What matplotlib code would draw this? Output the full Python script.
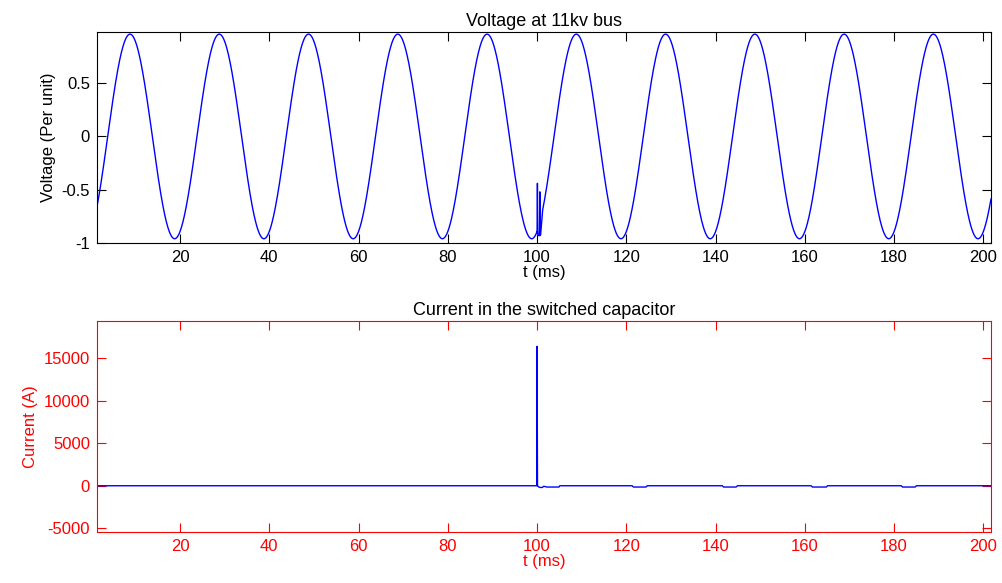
import numpy as np
import matplotlib
matplotlib.use("Agg")
import matplotlib.pyplot as plt

plt.rcParams['font.family'] = ['Liberation Sans', 'DejaVu Sans']
plt.rcParams['font.size'] = 12
plt.rcParams['axes.unicode_minus'] = False

# time window of the simulation (ms)
t_start, t_end = 1.4, 201.7

# bus voltage: 50 Hz steady state, per unit
v_amp = 0.96
v_freq_hz = 50.0
v_first_peak_ms = 8.8

# switching transient on the voltage around t = 100 ms
tr_t = [100.00, 100.08, 100.16, 100.24, 100.55, 100.62, 100.70, 100.80]
tr_v = [-0.91, -0.44, -0.88, -0.93, -0.93, -0.52, -0.93, -0.92]
tr_resume = 101.2

# capacitor current (A)
cur_t = [1.4, 99.95, 100.0, 100.1, 100.3, 100.7, 101.2, 101.5, 102.2, 104.9, 105.1,
         121.3, 121.6, 124.4, 124.7,
         141.5, 141.8, 144.6, 144.9,
         161.4, 161.7, 164.8, 165.1,
         181.6, 181.9, 184.7, 185.0,
         201.7]
cur_v = [0, 0, 16400, 0, -120, -200, -200, -60, -150, -150, 0,
         0, -150, -150, 0,
         0, -150, -150, 0,
         0, -150, -150, 0,
         0, -150, -150, 0,
         0]

v_ticks = [-1, -0.5, 0, 0.5]
i_ticks = [-5000, 0, 5000, 10000, 15000]
t_ticks = list(range(20, 201, 20))


def bus_voltage(t):
    return v_amp * np.cos(2 * np.pi * v_freq_hz * (t - v_first_peak_ms) / 1000.0)


t = np.linspace(t_start, t_end, 6000)
t_pre = t[t < tr_t[0]]
t_post = t[t >= tr_resume]
volt_t = np.concatenate([t_pre, tr_t, t_post])
volt_v = np.concatenate([bus_voltage(t_pre), tr_v, bus_voltage(t_post)])

fig = plt.figure(figsize=(10.03, 5.83), dpi=100)
ax1 = fig.add_axes([0.0967, 0.5832, 0.8913, 0.3619])
ax2 = fig.add_axes([0.0967, 0.0875, 0.8913, 0.3624])

blue = (0, 0, 1)
red = (1, 0, 0)

# --- voltage ---
ax1.plot(volt_t, volt_v, color=blue, lw=1.0)
ax1.set_xlim(t_start, t_end)
ax1.set_ylim(-1.0, 0.98)
ax1.set_xticks(t_ticks)
ax1.set_yticks(v_ticks)
ax1.set_yticklabels(['-1', '-0.5', '0', '0.5'])
ax1.tick_params(direction='in', length=6.5, width=0.8, top=True, right=True, pad=5)
ax1.set_title('Voltage at 11kv bus', pad=4, fontsize=13)
ax1.set_xlabel('t (ms)', labelpad=0)
ax1.set_ylabel('Voltage (Per unit)')

# --- current ---
ax2.plot(cur_t, cur_v, color=blue, lw=1.0)
ax2.set_xlim(t_start, t_end)
ax2.set_ylim(-5440, 19420)
ax2.set_xticks(t_ticks)
ax2.set_yticks(i_ticks)
ax2.tick_params(direction='in', length=6.5, width=0.8, top=True, right=True, pad=5,
                colors=red)
for sp in ax2.spines.values():
    sp.set_color(red)
ax2.set_title('Current in the switched capacitor', pad=4, fontsize=13)
ax2.set_xlabel('t (ms)', color=red, labelpad=0)
ax2.set_ylabel('Current (A)', color=red)

fig.savefig('out.png', dpi=100)
